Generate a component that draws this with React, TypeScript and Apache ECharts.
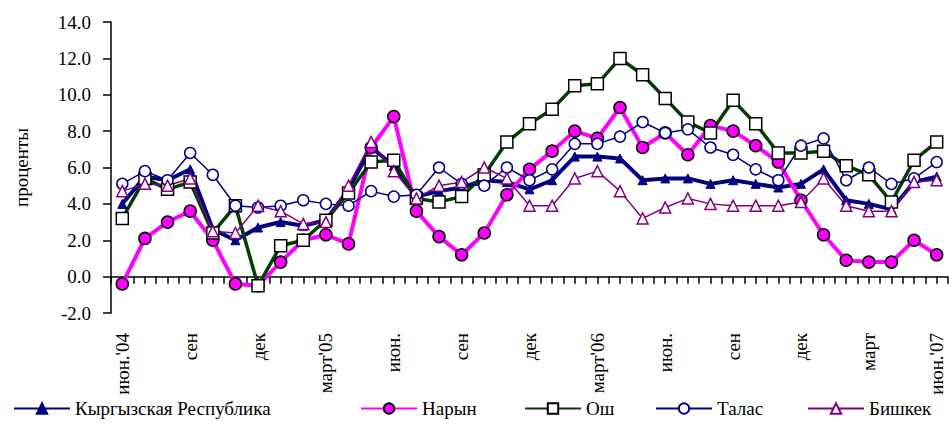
import React, { useEffect, useRef } from "react";
import * as echarts from "echarts";

const categories = [
  "июн.'04", "июл", "авг", "сен", "окт", "ноя", "дек", "янв", "фев",
  "март'05", "апр", "май", "июн.", "июл", "авг", "сен", "окт", "ноя", "дек",
  "янв", "фев", "март'06", "апр", "май", "июн.", "июл", "авг", "сен", "окт",
  "ноя", "дек", "янв", "фев", "март", "апр", "май", "июн.'07",
];

const kyrgyzRepublic = [
  4.0, 5.5, 5.3, 5.9, 2.6, 2.0, 2.7, 3.0, 2.8, 3.1, 4.8, 7.1, 6.1, 4.4, 4.7, 4.9,
  5.3, 5.2, 4.8, 5.3, 6.6, 6.6, 6.5, 5.3, 5.4, 5.4, 5.1, 5.3, 5.1, 4.9, 5.1, 5.9,
  4.2, 4.0, 3.7, 5.2, 5.5,
];
const naryn = [
  -0.4, 2.1, 3.0, 3.6, 2.0, -0.4, -0.5, 0.8, 2.0, 2.3, 1.8, 7.1, 8.8, 3.6, 2.2, 1.2,
  2.4, 4.5, 5.9, 6.9, 8.0, 7.6, 9.3, 7.1, 7.9, 6.7, 8.3, 8.0, 7.2, 6.3, 4.2, 2.3,
  0.9, 0.8, 0.8, 2.0, 1.2,
];
const osh = [
  3.2, 5.4, 4.8, 5.2, 2.4, 3.9, -0.5, 1.7, 2.0, 3.1, 4.6, 6.3, 6.4, 4.3, 4.1, 4.4,
  5.6, 7.4, 8.4, 9.2, 10.5, 10.6, 12.0, 11.1, 9.8, 8.5, 7.9, 9.7, 8.4, 6.8, 6.8, 6.9,
  6.1, 5.6, 4.1, 6.4, 7.4,
];
const talas = [
  5.1, 5.8, 5.3, 6.8, 5.6, 3.9, 3.8, 3.9, 4.2, 4.0, 3.9, 4.7, 4.4, 4.5, 6.0, 5.1,
  5.0, 6.0, 5.3, 5.9, 7.3, 7.3, 7.7, 8.5, 7.9, 8.1, 7.1, 6.7, 5.9, 5.3, 7.2, 7.6,
  5.3, 6.0, 5.1, 5.4, 6.3,
];
const bishkek = [
  4.7, 5.1, 5.0, 5.4, 2.5, 2.4, 3.9, 3.6, 2.9, 3.0, 5.0, 7.4, 5.8, 4.3, 5.0, 5.2,
  6.0, 5.4, 3.9, 3.9, 5.4, 5.8, 4.7, 3.2, 3.8, 4.3, 4.0, 3.9, 3.9, 3.9, 4.1, 5.4,
  3.9, 3.6, 3.6, 5.2, 5.3,
];

const seriesNames = ["Кыргызская Республика", "Нарын", "Ош", "Талас", "Бишкек"];
const yAxisName = "проценты";

const FONT = "Liberation Serif";

export default function App() {
  const ref = useRef<HTMLDivElement>(null);

  useEffect(() => {
    if (!ref.current) return;
    const chart = echarts.init(ref.current, undefined, { renderer: "svg" });

    const halfTicks = categories.flatMap((c) => [c + "a", c + "b"]);

    const legendLefts = [13, 360, 524, 655, 807];

    const option: any = {
      animation: false,
      backgroundColor: "#ffffff",
      grid: { left: 111, right: 4, top: 22, bottom: 115, containLabel: false },
      legend: seriesNames.map((n, i) => ({
        data: [n],
        left: legendLefts[i],
        top: 399,
        padding: 0,
        itemWidth: 56,
        itemHeight: 13,
        itemGap: 0,
        textStyle: { fontFamily: FONT, fontSize: 19, color: "#000" },
        selectedMode: false,
      })),
      xAxis: [
        {
          type: "category",
          data: categories,
          boundaryGap: true,
          axisLine: { show: true, onZero: true, onZeroAxisIndex: 0, lineStyle: { color: "#000", width: 1.5 } },
          axisTick: { show: false },
          axisLabel: {
            interval: 2,
            rotate: 90,
            margin: 20,
            fontFamily: FONT,
            fontSize: 19,
            color: "#000",
          },
          splitLine: { show: false },
        },
        {
          type: "category",
          data: halfTicks,
          boundaryGap: true,
          position: "bottom",
          axisLine: { show: false, onZero: true, onZeroAxisIndex: 0 },
          axisTick: { show: true, interval: 0, length: 7, lineStyle: { color: "#000", width: 1.5 } },
          axisLabel: { show: false },
          splitLine: { show: false },
        },
      ],
      yAxis: {
        type: "value",
        min: -2,
        max: 14,
        interval: 2,
        name: yAxisName,
        nameLocation: "middle",
        nameRotate: 90,
        nameGap: 80,
        nameTextStyle: { fontFamily: FONT, fontSize: 19, color: "#000" },
        axisLine: { show: true, lineStyle: { color: "#000", width: 1.5 } },
        axisTick: { show: true, length: 8, lineStyle: { color: "#000", width: 1.5 } },
        axisLabel: {
          margin: 20,
          fontFamily: FONT,
          fontSize: 19,
          color: "#000",
          formatter: (v: number) => v.toFixed(1),
        },
        splitLine: { show: false },
      },
      series: [
        {
          name: seriesNames[0],
          type: "line",
          data: kyrgyzRepublic,
          symbol: "triangle",
          symbolSize: 9,
          lineStyle: { color: "#000080", width: 4 },
          itemStyle: { color: "#000080", borderColor: "#000080", borderWidth: 1 },
        },
        {
          name: seriesNames[1],
          type: "line",
          data: naryn,
          symbol: "circle",
          symbolSize: 12,
          lineStyle: { color: "#ff00ff", width: 4 },
          itemStyle: { color: "#ff00ff", borderColor: "#000", borderWidth: 1.5 },
        },
        {
          name: seriesNames[2],
          type: "line",
          data: osh,
          symbol: "rect",
          symbolSize: 12,
          lineStyle: { color: "#003f00", width: 3.5 },
          itemStyle: { color: "#ffffff", borderColor: "#000", borderWidth: 1.5 },
        },
        {
          name: seriesNames[3],
          type: "line",
          data: talas,
          symbol: "circle",
          symbolSize: 11,
          lineStyle: { color: "#000080", width: 1.5 },
          itemStyle: { color: "#ffffff", borderColor: "#000080", borderWidth: 1.5 },
        },
        {
          name: seriesNames[4],
          type: "line",
          data: bishkek,
          symbol: "triangle",
          symbolSize: 11,
          lineStyle: { color: "#800080", width: 1.5 },
          itemStyle: { color: "#ffffff", borderColor: "#800080", borderWidth: 1.5 },
        },
      ],
    };

    chart.setOption(option);
    return () => chart.dispose();
  }, []);

  return (
    <div
      ref={ref}
      style={{ position: "fixed", left: 0, top: 0, width: 952, height: 428, background: "#fff" }}
    />
  );
}
